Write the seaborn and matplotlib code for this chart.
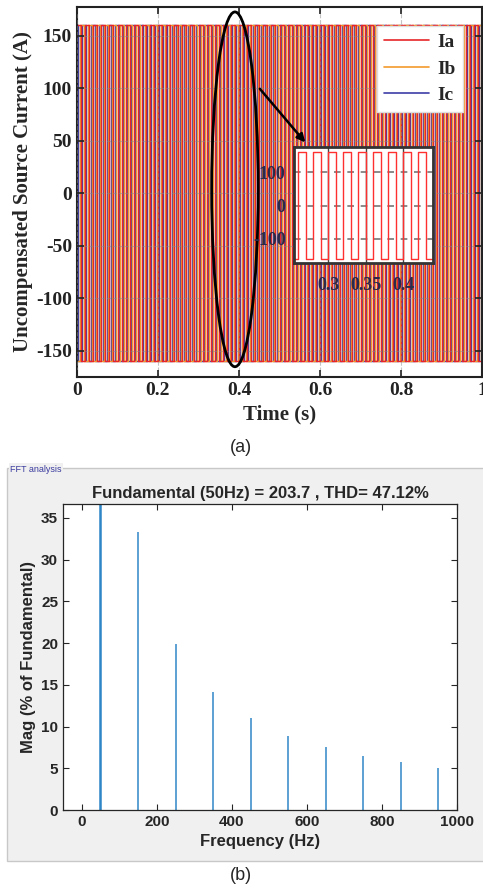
import numpy as np
import pandas as pd
import matplotlib
matplotlib.use('Agg')
import matplotlib.pyplot as plt
import seaborn as sns
from matplotlib.patches import Ellipse, Rectangle

# --- data ---
phases = ['Ia', 'Ib', 'Ic']
# level of each phase in the six 60-degree sectors of one 50 Hz period
ia_sectors = [1, 1, 1, -1, -1, -1]
ib_sectors = [-1, -1, 1, 1, 1, -1]
ic_sectors = [1, -1, -1, -1, 1, 1]
amplitude = 160          # A
supply_freq = 50         # Hz
n_cycles = 50            # over 0..1 s

harmonic_freq = [50, 150, 250, 350, 450, 550, 650, 750, 850, 950]
harmonic_mag = [100, 33.3, 19.9, 14.2, 11.0, 8.9, 7.6, 6.5, 5.7, 5.0]

phase_colors = {'Ia': '#e8262a', 'Ib': '#f39a2c', 'Ic': '#3d3da8'}

# build the step series (sector start times, levels repeated for every cycle)
sector_t = np.arange(n_cycles * 6 + 1) / (6 * supply_freq)
frames = []
for name, levels in zip(phases, [ia_sectors, ib_sectors, ic_sectors]):
    vals = np.tile(levels, n_cycles) * amplitude
    vals = np.append(vals, vals[-1])
    frames.append(pd.DataFrame({'t': sector_t, 'i': vals, 'phase': name}))
wave_df = pd.concat(frames, ignore_index=True)

fft_df = pd.DataFrame({'freq': harmonic_freq, 'mag': harmonic_mag})

sns.set_style('ticks')
plt.rcParams['font.family'] = ['Liberation Serif', 'DejaVu Serif']
plt.rcParams['axes.unicode_minus'] = False
sans = ['Liberation Sans', 'DejaVu Sans']

fig = plt.figure(figsize=(4.83, 8.91), dpi=100)

# grey panel behind the FFT plot
bg = fig.add_axes([0, 0, 1, 1], zorder=-10)
bg.set_axis_off()
bg.set_xlim(0, 1)
bg.set_ylim(0, 1)
bg.add_patch(Rectangle((7 / 483, 1 - 861 / 891), 1, 393 / 891, facecolor='#f0f0f0',
                       edgecolor='#c8c8c8', lw=1))
bg.text(10 / 483, 1 - 469 / 891, 'FFT analysis', ha='left', va='center', fontsize=6.5,
        color='#3c3ca0', family=sans,
        bbox=dict(facecolor='#f0f0f0', edgecolor='none', pad=1))

# ---------------- (a) source current ----------------
ax1 = fig.add_axes([77 / 483, 1 - 377 / 891, 405 / 483, 370 / 891])
# Ic drawn first, Ia last so the red phase sits on top
sns.lineplot(data=wave_df, x='t', y='i', hue='phase', hue_order=['Ic', 'Ib', 'Ia'],
             palette=phase_colors, estimator=None, sort=False, drawstyle='steps-post',
             lw=1.05, legend=False, ax=ax1)
ax1.set_xlim(0, 1)
ax1.set_ylim(-175, 177.5)
ax1.set_xticks([0, 0.2, 0.4, 0.6, 0.8, 1])
ax1.set_xticklabels(['0', '0.2', '0.4', '0.6', '0.8', '1'])
ax1.set_yticks([-150, -100, -50, 0, 50, 100, 150])
ax1.tick_params(direction='in', top=True, right=True, labelsize=14, length=5,
                width=1.2, colors='#222222')
for lab in ax1.get_xticklabels() + ax1.get_yticklabels():
    lab.set_fontweight('bold')
ax1.grid(True, ls='--', color='#888888', lw=0.8, alpha=0.5)
ax1.set_axisbelow(False)
for sp in ax1.spines.values():
    sp.set_linewidth(1.5)
    sp.set_color('#222222')
ax1.set_xlabel('Time (s)', fontsize=15, fontweight='bold', labelpad=4)
ax1.set_ylabel('Uncompensated Source Current (A)', fontsize=15, fontweight='bold', labelpad=2)

handles = ax1.get_lines()[:3][::-1]
leg = ax1.legend(handles, phases, loc='upper right', bbox_to_anchor=(0.953, 0.949),
                 borderaxespad=0, fancybox=False, framealpha=1, edgecolor='#dddddd',
                 prop={'weight': 'bold', 'size': 14}, handlelength=2.3,
                 labelspacing=0.45, borderpad=0.4, handletextpad=0.4)
for h in leg.get_lines():
    h.set_linewidth(1.2)

ax1.add_patch(Ellipse((0.39, 3.8), 0.115, 338, fill=False, ec='black', lw=2, zorder=5))
ax1.annotate('', xy=(0.568, 46.5), xytext=(0.447, 101.6),
             arrowprops=dict(arrowstyle='-|>', color='black', lw=1.8, mutation_scale=12),
             zorder=6)

# inset zoom
axin = fig.add_axes([294 / 483, 1 - 263 / 891, 139 / 483, 116 / 891])
ia_df = wave_df[wave_df['phase'] == 'Ia']
sns.lineplot(data=ia_df, x='t', y='i', color='#ff3030', estimator=None, sort=False,
             drawstyle='steps-post', lw=1.0, ax=axin)
axin.set_xlim(0.254, 0.44)
axin.set_ylim(-172, 175)
axin.set_xticks([0.3, 0.35, 0.4])
axin.set_xticklabels(['0.3', '0.35', '0.4'])
axin.set_yticks([-100, 0, 100])
axin.set_xlabel('')
axin.set_ylabel('')
axin.tick_params(length=0, labelsize=13, colors='#2a2a4a', pad=6)
axin.tick_params(axis='x', pad=10)
for lab in axin.get_xticklabels() + axin.get_yticklabels():
    lab.set_fontweight('bold')
axin.xaxis.grid(True, color='#444444', lw=1)
axin.yaxis.grid(True, ls='--', color='#777777', lw=1.2, dashes=(4, 4))
for sp in axin.spines.values():
    sp.set_linewidth(2)
    sp.set_color('#333333')

fig.text(241 / 483, 1 - 447 / 891, '(a)', ha='center', va='center', fontsize=13,
         family=sans)

# ---------------- (b) FFT analysis ----------------
ax2 = fig.add_axes([63 / 483, 1 - 810 / 891, 394 / 483, 306 / 891])
ax2.set_facecolor('white')
sns.barplot(data=fft_df, x='freq', y='mag', native_scale=True, width=0.002,
            color='#0072BD', edgecolor='#2f86c6', errorbar=None, linewidth=1.1,
            saturation=1, ax=ax2)
ax2.set_xlim(-50, 1000)
ax2.set_ylim(0, 36.67)
ax2.set_xticks([0, 200, 400, 600, 800, 1000])
ax2.set_yticks([0, 5, 10, 15, 20, 25, 30, 35])
ax2.tick_params(direction='in', top=True, right=True, length=4, width=0.8,
                colors='#262626', labelsize=11)
for lab in ax2.get_xticklabels() + ax2.get_yticklabels():
    lab.set_fontweight('bold')
    lab.set_family(sans)
for sp in ax2.spines.values():
    sp.set_linewidth(0.9)
    sp.set_color('#262626')
ax2.set_title('Fundamental (50Hz) = 203.7 , THD= 47.12%', fontsize=12, fontweight='bold',
              family=sans, color='#262626', pad=4)
ax2.set_xlabel('Frequency (Hz)', fontsize=12, fontweight='bold', family=sans,
               color='#262626', labelpad=4)
ax2.set_ylabel('Mag (% of Fundamental)', fontsize=12, fontweight='bold', family=sans,
               color='#262626', labelpad=4)

fig.text(241 / 483, 1 - 876 / 891, '(b)', ha='center', va='center', fontsize=13,
         family=sans)

fig.savefig('out.png', dpi=100)
